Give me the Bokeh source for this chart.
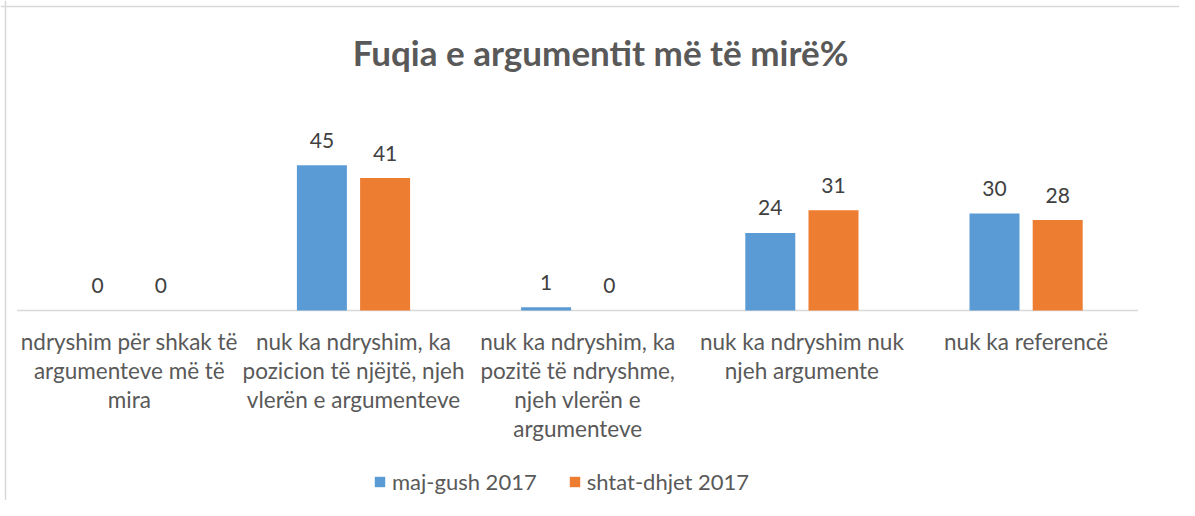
from bokeh.plotting import figure
from bokeh.models import ColumnDataSource, Range1d, Legend, LegendItem, Span
from bokeh.embed import file_html
from bokeh.resources import INLINE
from bokeh.core.properties import value

# ---- data ----
title_text = "Fuqia e argumentit më të mirë%"
categories = [
    "ndryshim për shkak të\nargumenteve më të\nmira",
    "nuk ka ndryshim, ka\npozicion të njëjtë, njeh\nvlerën e argumenteve",
    "nuk ka ndryshim, ka\npozitë të ndryshme,\nnjeh vlerën e\nargumenteve",
    "nuk ka ndryshim nuk\nnjeh argumente",
    "nuk ka referencë",
]
series_names = ["maj-gush 2017", "shtat-dhjet 2017"]
may_aug = [0, 45, 1, 24, 30]
sep_dec = [0, 41, 0, 31, 28]
colors = ["#5B9BD5", "#ED7D31"]

# ---- layout ----
W, H = 1179, 500
px_x = 224.2          # pixels per category
x0_px = 16.7          # left of plot area
px_y = 3.23           # pixels per unit
base_px = 310         # baseline from top
FONT = "Lato"

p = figure(width=W, height=H, output_backend="svg", toolbar_location=None,
           x_range=Range1d(-x0_px / px_x, (W - x0_px) / px_x),
           y_range=Range1d(-(H - base_px) / px_y, base_px / px_y),
           x_axis_location=None, y_axis_location=None, min_border=0)
p.grid.visible = False
p.outline_line_color = None
p.background_fill_color = "white"
p.border_fill_color = "white"

# chart border (left and top only visible)
p.add_layout(Span(location=(5 - x0_px) / px_x, dimension="height",
                  line_color="#d9d9d9", line_width=1.5))
p.add_layout(Span(location=(base_px - 6) / px_y, dimension="width",
                  line_color="#d9d9d9", line_width=1.5))

n = len(categories)
centers = [i + 0.5 for i in range(n)]
bw = 50 / px_x
off = 31.6 / px_x

# axis line
p.segment(x0=[0], y0=[0], x1=[n], y1=[0], line_color="#d9d9d9", line_width=1.5)

renderers = []
for k, (vals, col) in enumerate(zip([may_aug, sep_dec], colors)):
    xs = [c + (-off if k == 0 else off) for c in centers]
    src = ColumnDataSource(dict(x=xs, top=vals, lbl=[str(v) for v in vals]))
    r = p.vbar(x="x", top="top", bottom=0, width=bw, source=src,
               fill_color=col, line_color=None)
    renderers.append(r)
    p.text(x="x", y="top", text="lbl", source=src, text_align="center",
           text_baseline="alphabetic", y_offset=-25, text_font=value(FONT),
           text_font_size="21px", text_color="#404040")

# category labels
p.text(x=centers, y=[-5.4] * n, text=categories, text_align="center",
       text_baseline="top", text_font=value(FONT), text_font_size="22.5px",
       text_color="#595959", text_line_height=1.07)

# title
p.text(x=[(600 - x0_px) / px_x], y=[(base_px - 51) / px_y], text=[title_text],
       text_align="center", text_baseline="middle", text_font=value(FONT),
       text_font_size="35px", text_font_style="bold", text_color="#595959")

legend = Legend(items=[LegendItem(label=series_names[i], renderers=[renderers[i]]) for i in range(2)],
                orientation="horizontal", location=(373, 5),
                glyph_width=13, glyph_height=13, label_standoff=6, spacing=31,
                padding=0, margin=0, border_line_color=None, background_fill_alpha=0,
                label_text_font=FONT, label_text_font_size="22px",
                label_text_color="#595959", label_height=13)
p.add_layout(legend)

open("out.html", "w").write(file_html(p, INLINE))
